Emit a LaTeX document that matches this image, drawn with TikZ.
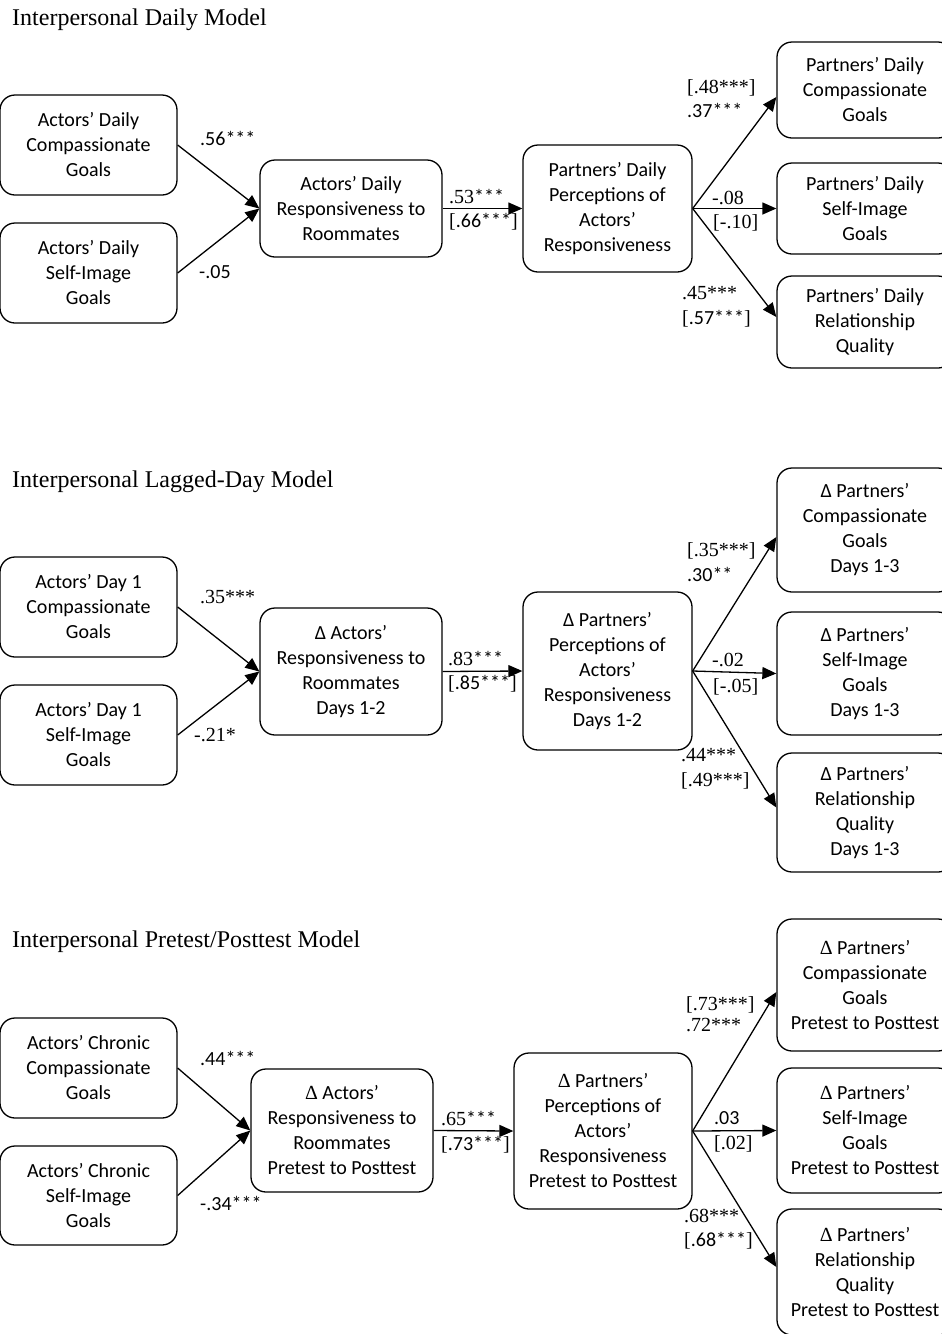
\documentclass[tikz,border=0pt]{standalone}
\usepackage{fontspec}
\setmainfont{Liberation Serif}
\setsansfont{Carlito}
\usetikzlibrary{arrows.meta}

\begin{document}
\begin{tikzpicture}[x=1pt,y=-1pt,
	rbox/.style={draw, line width=1.3pt, rounded corners=15pt, align=center, inner sep=2pt,
		font=\sffamily\fontsize{20}{25}\selectfont},
	lbox/.style={rbox, minimum width=177pt, minimum height=100pt},
	rtbox/.style={rbox, minimum width=176pt},
	coef/.style={anchor=west, inner sep=0pt, font=\rmfamily\fontsize{20}{24}\selectfont},
	coefs/.style={coef, font=\sffamily\fontsize{20}{24}\selectfont},
	ttl/.style={anchor=west, inner sep=0pt, font=\rmfamily\fontsize{24}{28}\selectfont},
	link/.style={draw, line width=1.3pt, -{Triangle[length=14pt,width=12pt]}}]
	\useasboundingbox (0,0) rectangle (942,1334);
	\clip (0,0) rectangle (942,1334);

	\node[ttl] (d-title) at (12,20) {Interpersonal Daily Model};
	\node[lbox] (d-a1) at (88.5,145) {Actors’ Daily\\Compassionate\\Goals};
	\node[lbox] (d-a2) at (88.5,273) {Actors’ Daily\\Self-Image\\Goals};
	\node[rbox, minimum width=182pt, minimum height=97pt] (d-m1) at (351,208.5) {Actors’ Daily\\Responsiveness to\\Roommates};
	\node[rbox, minimum width=169pt, minimum height=127pt] (d-m2) at (607.5,208.5) {Partners’ Daily\\Perceptions of\\Actors’\\Responsiveness};
	\node[rtbox, minimum height=96pt] (d-p1) at (865,90) {Partners’ Daily\\Compassionate\\Goals};
	\node[rtbox, minimum height=91pt] (d-p2) at (865,208.5) {Partners’ Daily\\Self-Image\\Goals};
	\node[rtbox, minimum height=92pt] (d-p3) at (865,322) {Partners’ Daily\\Relationship\\Quality};
	\path[every edge/.style=link]
	(d-a1.east) edge (d-m1.west)
	(d-a2.east) edge (d-m1.west)
	(d-m1.east) edge (d-m2.west)
	(d-m2.east) edge ([yshift=-7pt]d-p1.west)
	(d-m2.east) edge (d-p2.west)
	(d-m2.east) edge ([yshift=5pt]d-p3.west);
	\node[coefs] (d-c1) at (200,138) {.56***};
	\node[coefs] (d-c2) at (199,272) {-.05};
	\node[coef] (d-c3) at (449,197) {.53{\sffamily***}};
	\node[coef] (d-c4) at (449,222) {[{\sffamily.66***}]};
	\node[coef] (d-c5) at (687,88) {[.48***]};
	\node[coefs] (d-c6) at (687,110) {.37***};
	\node[coef] (d-c7) at (712,198) {-.08};
	\node[coef] (d-c8) at (713,223) {[-.10]};
	\node[coef] (d-c9) at (682,293) {.45***};
	\node[coef] (d-c10) at (682,319) {[{\sffamily.57***}]};

	\node[ttl] (l-title) at (12,482) {Interpersonal Lagged-Day Model};
	\node[lbox] (l-a1) at (88.5,607) {Actors’ Day 1\\Compassionate\\Goals};
	\node[lbox] (l-a2) at (88.5,735) {Actors’ Day 1\\Self-Image\\Goals};
	\node[rbox, minimum width=182pt, minimum height=127pt] (l-m1) at (351,671.5) {Δ Actors’\\Responsiveness to\\Roommates\\Days 1-2};
	\node[rbox, minimum width=169pt, minimum height=158pt] (l-m2) at (607.5,671) {Δ Partners’\\Perceptions of\\Actors’\\Responsiveness\\Days 1-2};
	\node[rtbox, minimum height=124pt] (l-p1) at (865,530) {Δ Partners’\\Compassionate\\Goals\\Days 1-3};
	\node[rtbox, minimum height=123pt] (l-p2) at (865,673.5) {Δ Partners’\\Self-Image\\Goals\\Days 1-3};
	\node[rtbox, minimum height=119pt] (l-p3) at (865,812.5) {Δ Partners’\\Relationship\\Quality\\Days 1-3};
	\path[every edge/.style=link]
	(l-a1.east) edge (l-m1.west)
	(l-a2.east) edge (l-m1.west)
	(l-m1.east) edge (l-m2.west)
	(l-m2.east) edge ([yshift=-7pt]l-p1.west)
	(l-m2.east) edge (l-p2.west)
	(l-m2.east) edge ([yshift=5pt]l-p3.west);
	\node[coef] (l-c1) at (200,597) {.35***};
	\node[coef] (l-c2) at (194,735) {-.21*};
	\node[coef] (l-c3) at (448,659) {.83{\sffamily***}};
	\node[coef] (l-c4) at (448,684) {[{\sffamily.85***}]};
	\node[coef] (l-c5) at (687,551) {[.35***]};
	\node[coefs] (l-c6) at (687,574) {.30**};
	\node[coef] (l-c7) at (712,660) {-.02};
	\node[coef] (l-c8) at (713,687) {[-.05]};
	\node[coef] (l-c9) at (681,755) {.44***};
	\node[coef] (l-c10) at (681,781) {[.49***]};

	\node[ttl] (p-title) at (12,942) {Interpersonal Pretest/Posttest Model};
	\node[lbox] (p-a1) at (88.5,1068) {Actors’ Chronic\\Compassionate\\Goals};
	\node[lbox, minimum height=99pt] (p-a2) at (88.5,1195.5) {Actors’ Chronic\\Self-Image\\Goals};
	\node[rbox, minimum width=182pt, minimum height=123pt] (p-m1) at (342,1130.5) {{\rmfamily Δ} Actors’\\Responsiveness to\\Roommates\\Pretest to Posttest};
	\node[rbox, minimum width=178pt, minimum height=156pt] (p-m2) at (603,1131) {{\rmfamily Δ} Partners’\\Perceptions of\\Actors’\\Responsiveness\\Pretest to Posttest};
	\node[rtbox, minimum height=132pt] (p-p1) at (865,985) {{\rmfamily Δ} Partners’\\Compassionate\\Goals\\Pretest to Posttest};
	\node[rtbox, minimum height=125pt] (p-p2) at (865,1130.5) {{\rmfamily Δ} Partners’\\Self-Image\\Goals\\Pretest to Posttest};
	\node[rtbox, minimum height=126pt] (p-p3) at (865,1272) {{\rmfamily Δ} Partners’\\Relationship\\Quality\\Pretest to Posttest};
	\path[every edge/.style=link]
	(p-a1.east) edge (p-m1.west)
	(p-a2.east) edge (p-m1.west)
	(p-m1.east) edge (p-m2.west)
	(p-m2.east) edge ([yshift=-7pt]p-p1.west)
	(p-m2.east) edge (p-p2.west)
	(p-m2.east) edge ([yshift=5pt]p-p3.west);
	\node[coefs] (p-c1) at (200,1058) {.44***};
	\node[coefs] (p-c2) at (200,1203) {-.34***};
	\node[coef] (p-c3) at (441,1119) {.65{\sffamily***}};
	\node[coef] (p-c4) at (441,1145) {[{\sffamily.73***}]};
	\node[coef] (p-c5) at (686,1005) {[.73***]};
	\node[coef] (p-c6) at (686,1025) {.72***};
	\node[coefs] (p-c7) at (714,1118) {.03};
	\node[coef] (p-c8) at (714,1144) {[.02]};
	\node[coef] (p-c9) at (684,1216) {.68***};
	\node[coef] (p-c10) at (684,1241) {[{\sffamily.68***}]};
\end{tikzpicture}
\end{document}
